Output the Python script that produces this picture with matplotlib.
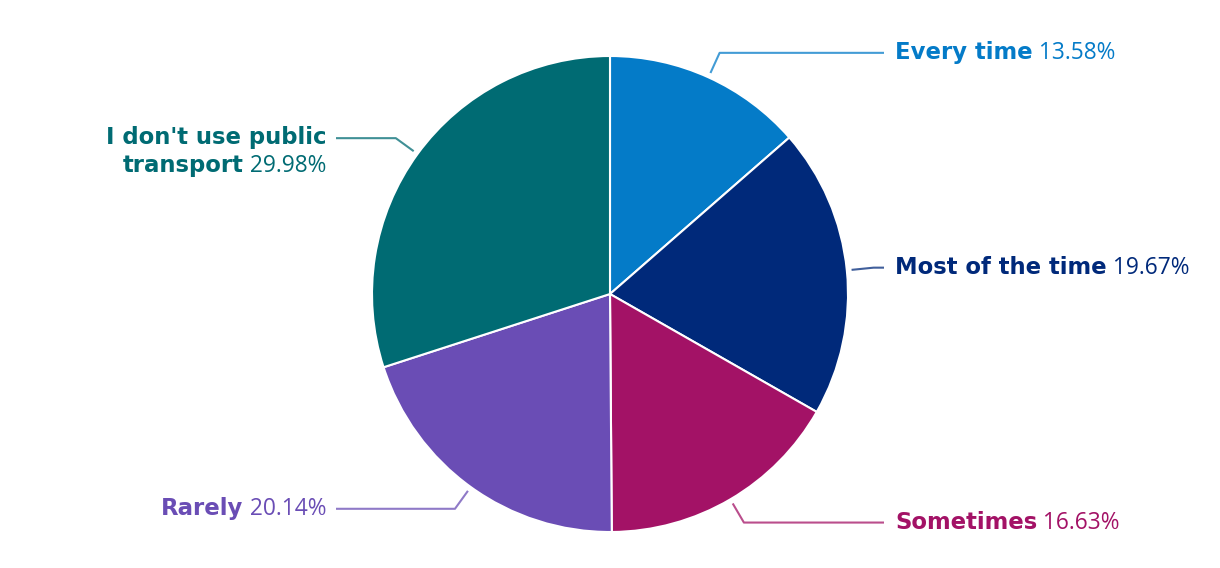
import numpy as np
import matplotlib.pyplot as plt

# --- dados ---
labels = ["Every time", "Most of the time", "Sometimes", "Rarely",
          "I don't use public\ntransport"]
values = [13.58, 19.67, 16.63, 20.14, 29.98]
colors = ["#047BC8", "#00297A", "#A31266", "#6A4DB5", "#006B73"]

W, H = 1220, 568
fig = plt.figure(figsize=(W / 100, H / 100), dpi=100)
ax = fig.add_axes([0, 0, 1, 1])

cx, cy, R = 610, H - 294, 238
wedges, _ = ax.pie(values, colors=colors, startangle=90, counterclock=False,
                   center=(cx, cy), radius=R, frame=True,
                   wedgeprops=dict(edgecolor="white", linewidth=1.5))
ax.set_xlim(0, W)
ax.set_ylim(0, H)
ax.set_aspect("equal")
ax.axis("off")

FS = 16.4
BOLD = dict(fontsize=FS, fontweight="bold", family="DejaVu Sans",
            va="baseline")
REG = dict(fontsize=FS, family="Open Sans", va="baseline")
DY = 6  # linha de base abaixo do fio
renderer = fig.canvas.get_renderer()


def width_of(t):
    return t.get_window_extent(renderer=renderer).width


for w, lab, val, col in zip(wedges, labels, values, colors):
    mid = np.deg2rad((w.theta1 + w.theta2) / 2)
    x0, y0 = cx + 1.02 * R * np.cos(mid), cy + 1.02 * R * np.sin(mid)
    x1, y1 = cx + 1.113 * R * np.cos(mid), cy + 1.113 * R * np.sin(mid)
    right = np.cos(mid) > 0
    xe = 884 if right else 336
    ax.plot([x0, x1, xe], [y0, y1, y1], color=col, alpha=0.75, lw=1.5,
            solid_capstyle="butt")
    pct = f" {val:.2f}%"
    lines = lab.split("\n")
    yb = y1 - DY
    if right:
        t = ax.text(xe + 11, yb, lines[0], color=col, ha="left", **BOLD)
        ax.text(xe + 11 + width_of(t), yb, pct, color=col, ha="left", **REG)
    else:
        xr = xe - 10
        ylast = yb - 28 * (len(lines) - 1)
        p = ax.text(xr, ylast, pct, color=col, ha="right", **REG)
        ax.text(xr - width_of(p), ylast, lines[-1], color=col, ha="right",
                **BOLD)
        for i, ln in enumerate(lines[:-1]):
            ax.text(xr, yb - 28 * i, ln, color=col, ha="right", **BOLD)

fig.savefig("out.png", dpi=100)
